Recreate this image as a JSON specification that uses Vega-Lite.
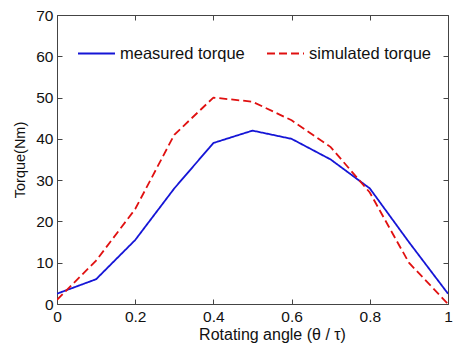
{
  "$schema": "https://vega.github.io/schema/vega-lite/v6.json",
  "autosize": "none",
  "padding": {"left": 57, "top": 15, "right": 8, "bottom": 42},
  "width": 391,
  "height": 289,
  "background": "white",
  "config": {
    "font": "Liberation Sans",
    "view": {"stroke": "#444", "strokeWidth": 1},
    "axis": {"grid": false, "domain": false, "tickColor": "#444", "tickSize": -5, "labelFontSize": 15.5, "labelColor": "#111", "titleFontSize": 16, "titleFontWeight": "normal", "titleColor": "#111", "labelFont": "Liberation Sans", "titleFont": "Liberation Sans"}
  },
  "data": {"values": [
    {"angle": 0, "torque": 2.5, "series": "measured torque"},
    {"angle": 0.1, "torque": 6, "series": "measured torque"},
    {"angle": 0.2, "torque": 15.5, "series": "measured torque"},
    {"angle": 0.3, "torque": 28, "series": "measured torque"},
    {"angle": 0.4, "torque": 39, "series": "measured torque"},
    {"angle": 0.5, "torque": 42, "series": "measured torque"},
    {"angle": 0.6, "torque": 40, "series": "measured torque"},
    {"angle": 0.7, "torque": 35, "series": "measured torque"},
    {"angle": 0.8, "torque": 28, "series": "measured torque"},
    {"angle": 0.9, "torque": 15, "series": "measured torque"},
    {"angle": 1, "torque": 2.5, "series": "measured torque"},
    {"angle": 0, "torque": 1, "series": "simulated torque"},
    {"angle": 0.1, "torque": 10.5, "series": "simulated torque"},
    {"angle": 0.2, "torque": 23, "series": "simulated torque"},
    {"angle": 0.3, "torque": 41, "series": "simulated torque"},
    {"angle": 0.4, "torque": 50, "series": "simulated torque"},
    {"angle": 0.5, "torque": 49, "series": "simulated torque"},
    {"angle": 0.6, "torque": 44.5, "series": "simulated torque"},
    {"angle": 0.7, "torque": 38, "series": "simulated torque"},
    {"angle": 0.8, "torque": 27, "series": "simulated torque"},
    {"angle": 0.9, "torque": 10, "series": "simulated torque"},
    {"angle": 1, "torque": 0, "series": "simulated torque"}
  ]},
  "layer": [
    {
      "mark": {"type": "line", "strokeWidth": 1.8, "clip": true},
      "encoding": {
        "x": {"field": "angle", "type": "quantitative", "scale": {"domain": [0, 1], "nice": false},
              "axis": {"orient": "bottom", "values": [0, 0.2, 0.4, 0.6, 0.8, 1], "format": "~g", "labelPadding": 10, "title": "Rotating angle (θ / τ)", "titlePadding": 2, "titleX": 215, "labelFlush": false}},
        "y": {"field": "torque", "type": "quantitative", "scale": {"domain": [0, 70], "nice": false},
              "axis": {"orient": "left", "values": [0, 10, 20, 30, 40, 50, 60, 70], "labelPadding": 9, "title": "Torque(Nm)", "titleFontSize": 14.5, "titlePadding": 8}},
        "color": {"field": "series", "type": "nominal",
                  "scale": {"domain": ["measured torque", "simulated torque"], "range": ["#1515d6", "#e01010"]},
                  "legend": {"orient": "none", "legendX": 20, "legendY": 19, "direction": "horizontal", "title": null, "symbolType": "stroke", "symbolSize": 1369, "symbolStrokeWidth": 2, "labelFontSize": 16.5, "labelColor": "#111", "labelOffset": 4, "columnPadding": 18, "labelLimit": 300}},
        "strokeDash": {"field": "series", "type": "nominal",
                  "scale": {"domain": ["measured torque", "simulated torque"], "range": [[1, 0], [8, 4]]},
                  "legend": null}
      }
    },
    {
      "mark": {"type": "line", "opacity": 0},
      "encoding": {
        "x": {"field": "angle", "type": "quantitative", "axis": {"orient": "top", "values": [0, 0.2, 0.4, 0.6, 0.8, 1], "labels": false, "title": null}},
        "y": {"field": "torque", "type": "quantitative", "axis": {"orient": "right", "values": [0, 10, 20, 30, 40, 50, 60, 70], "labels": false, "title": null}}
      }
    }
  ],
  "resolve": {"axis": {"x": "independent", "y": "independent"}}
}
